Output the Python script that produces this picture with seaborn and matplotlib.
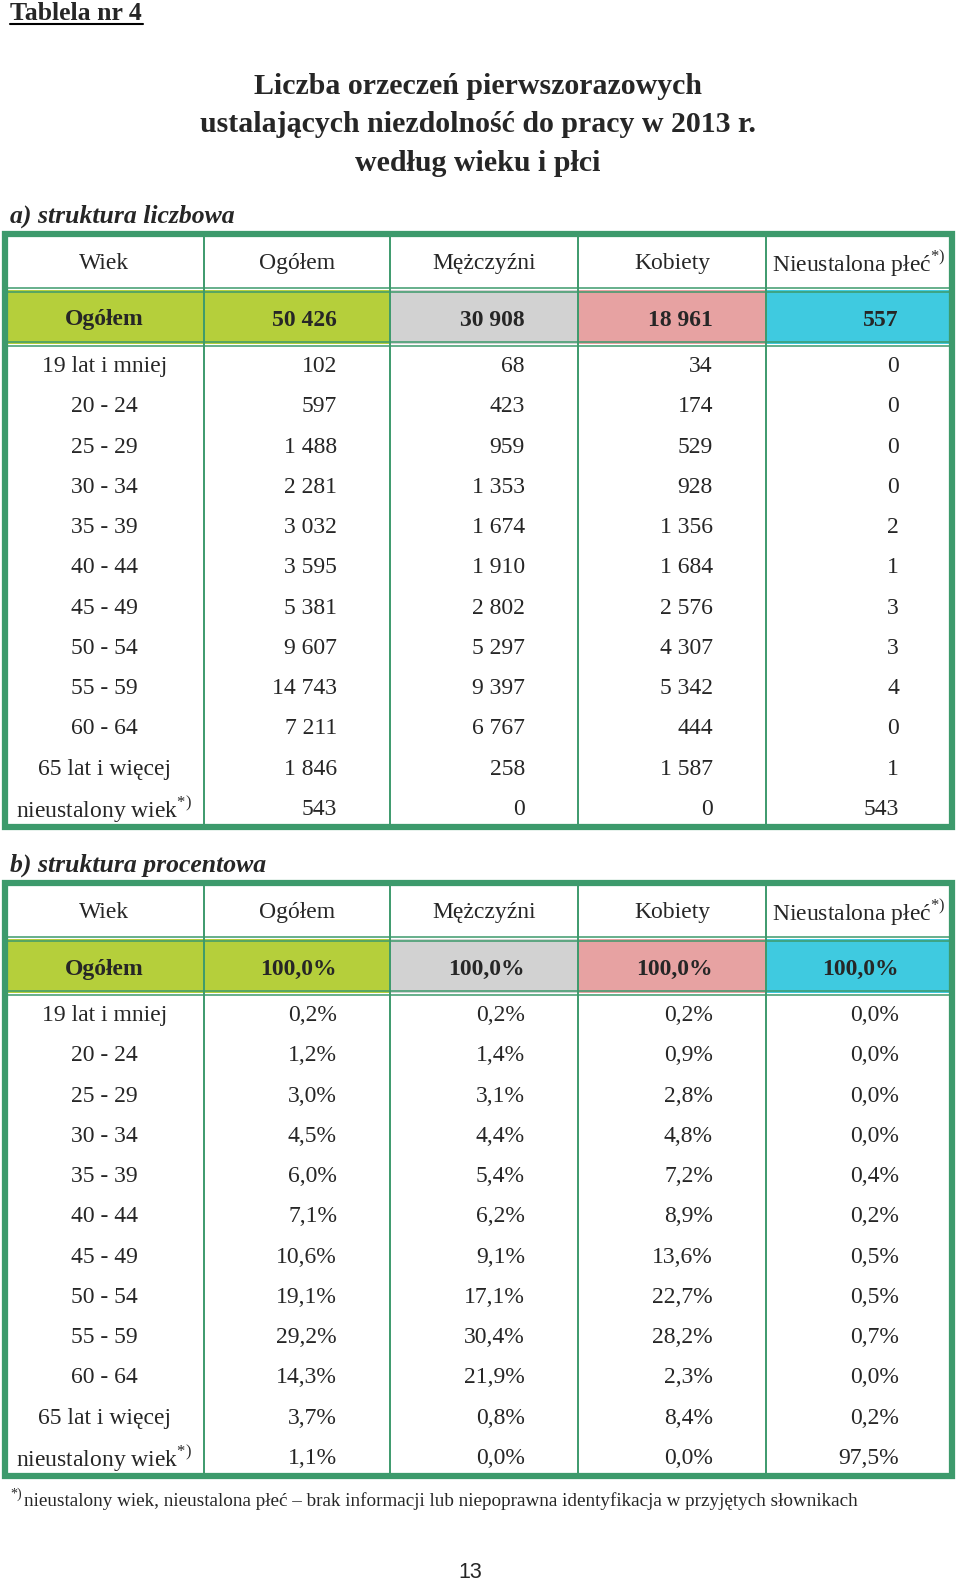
import numpy as np
import pandas as pd
import seaborn as sns
import matplotlib.pyplot as plt
from matplotlib.patches import Rectangle

sns.set_theme(style='white')
plt.rcParams['font.family'] = ['Liberation Serif', 'DejaVu Serif']
plt.rcParams['mathtext.fontset'] = 'custom'
plt.rcParams['mathtext.rm'] = 'Liberation Serif'
plt.rcParams['mathtext.bf'] = 'Liberation Serif:bold'

# data
ages = ['19 lat i mniej', '20 - 24', '25 - 29', '30 - 34', '35 - 39', '40 - 44',
        '45 - 49', '50 - 54', '55 - 59', '60 - 64', '65 lat i więcej',
        'nieustalony wiek$^{\\mathrm{*)}}$']
headers = ['Wiek', 'Ogółem', 'Mężczyźni', 'Kobiety', 'Nieustalona płeć$^{\\mathrm{*)}}$']

total_n = [50426, 30908, 18961, 557]
ogolem_n = [102, 597, 1488, 2281, 3032, 3595, 5381, 9607, 14743, 7211, 1846, 543]
men_n = [68, 423, 959, 1353, 1674, 1910, 2802, 5297, 9397, 6767, 258, 0]
women_n = [34, 174, 529, 928, 1356, 1684, 2576, 4307, 5342, 444, 1587, 0]
unk_n = [0, 0, 0, 0, 2, 1, 3, 3, 4, 0, 1, 543]

total_p = [100.0, 100.0, 100.0, 100.0]
ogolem_p = [0.2, 1.2, 3.0, 4.5, 6.0, 7.1, 10.6, 19.1, 29.2, 14.3, 3.7, 1.1]
men_p = [0.2, 1.4, 3.1, 4.4, 5.4, 6.2, 9.1, 17.1, 30.4, 21.9, 0.8, 0.0]
women_p = [0.2, 0.9, 2.8, 4.8, 7.2, 8.9, 13.6, 22.7, 28.2, 2.3, 8.4, 0.0]
unk_p = [0.0, 0.0, 0.0, 0.0, 0.4, 0.2, 0.5, 0.5, 0.7, 0.0, 0.2, 97.5]

df_n = pd.DataFrame({'Ogółem': ogolem_n, 'Mężczyźni': men_n,
                     'Kobiety': women_n, 'Nieustalona': unk_n}, index=ages)
df_p = pd.DataFrame({'Ogółem': ogolem_p, 'Mężczyźni': men_p,
                     'Kobiety': women_p, 'Nieustalona': unk_p}, index=ages)


def fmt_n(v):
    return f'{v:,}'.replace(',', ' ')


def fmt_p(v):
    return f'{v:.1f}%'.replace('.', ',')


GREEN = '#3d9a6c'
fills = ['#b5cf3b', '#b5cf3b', '#d2d2d2', '#e7a2a2', '#3fcae0']
col_edges = [5, 204, 390, 578, 766, 952]
FS = 17

fig = plt.figure(figsize=(9.6, 15.82), dpi=100)
ax = fig.add_axes([0, 0, 1, 1])
ax.set_xlim(0, 960)
ax.set_ylim(1582, 0)
ax.axis('off')


def draw_table(top, df, total, fmt):
    h_head, h_tot, h_row = 56, 54, 40.25
    y1 = top + h_head
    y2 = y1 + h_tot
    bottom = y2 + h_row * len(df)
    # coloured "Ogółem" row
    for c in range(5):
        ax.add_patch(Rectangle((col_edges[c], y1), col_edges[c + 1] - col_edges[c],
                               h_tot, color=fills[c], lw=0, zorder=1))
    # double lines around total row
    for y in (y1, y2):
        for d in (-2, 2):
            ax.plot([col_edges[0], col_edges[-1]], [y + d, y + d], color=GREEN,
                    lw=1.1, zorder=3, solid_capstyle='butt')
    for x in col_edges[1:-1]:
        ax.plot([x, x], [top, bottom], color=GREEN, lw=1.4, zorder=3)
    ax.add_patch(Rectangle((col_edges[0], top), col_edges[-1] - col_edges[0],
                           bottom - top, fill=False, ec=GREEN, lw=4.5, zorder=4))
    # header
    for c, h in enumerate(headers):
        ax.text((col_edges[c] + col_edges[c + 1]) / 2, top + h_head / 2 + 1.5, h,
                ha='center', va='center', fontsize=FS, zorder=5)
    # total row
    ax.text((col_edges[0] + col_edges[1]) / 2, y1 + h_tot / 2 + 3, 'Ogółem',
            ha='center', va='center', fontsize=FS, fontweight='bold', zorder=5)
    for c, v in enumerate(total):
        ax.text(col_edges[c + 2] - 53, y1 + h_tot / 2 + 3, fmt(v), ha='right',
                va='center', fontsize=FS, fontweight='bold', zorder=5)
    # body
    for r, (age, row) in enumerate(df.iterrows()):
        yc = y2 + h_row * (r + 0.5) + 2.5
        ax.text((col_edges[0] + col_edges[1]) / 2, yc, age, ha='center',
                va='center', fontsize=FS, zorder=5)
        for c, v in enumerate(row.values):
            ax.text(col_edges[c + 2] - 53, yc, fmt(v), ha='right', va='center',
                    fontsize=FS, zorder=5)


ax.text(10, 13, 'Tablela nr 4', fontsize=18.5, fontweight='bold', ha='left',
        va='center')
ax.plot([10, 143], [24, 24], color='black', lw=1.5)
for i, line in enumerate(['Liczba orzeczeń pierwszorazowych',
                          'ustalających niezdolność do pracy w 2013 r.',
                          'według wieku i płci']):
    ax.text(478, 86.5 + 38.5 * i, line, fontsize=21.5, fontweight='bold',
            ha='center', va='center')

ax.text(10, 216, 'a) struktura liczbowa', fontsize=18.5, fontweight='bold',
        style='italic', ha='left', va='center')
draw_table(234, df_n, total_n, fmt_n)

ax.text(10, 865, 'b) struktura procentowa', fontsize=18.5, fontweight='bold',
        style='italic', ha='left', va='center')
draw_table(883, df_p, total_p, fmt_p)

ax.text(10, 1494, '*)', fontsize=10, ha='left', va='center')
ax.text(24, 1501, 'nieustalony wiek, nieustalona płeć – brak informacji lub '
        'niepoprawna identyfikacja w przyjętych słownikach',
        fontsize=13.8, ha='left', va='center')
ax.text(470, 1572, '13', fontsize=15.5, family='Liberation Sans', ha='center',
        va='center')

fig.savefig('out.png', dpi=100)
